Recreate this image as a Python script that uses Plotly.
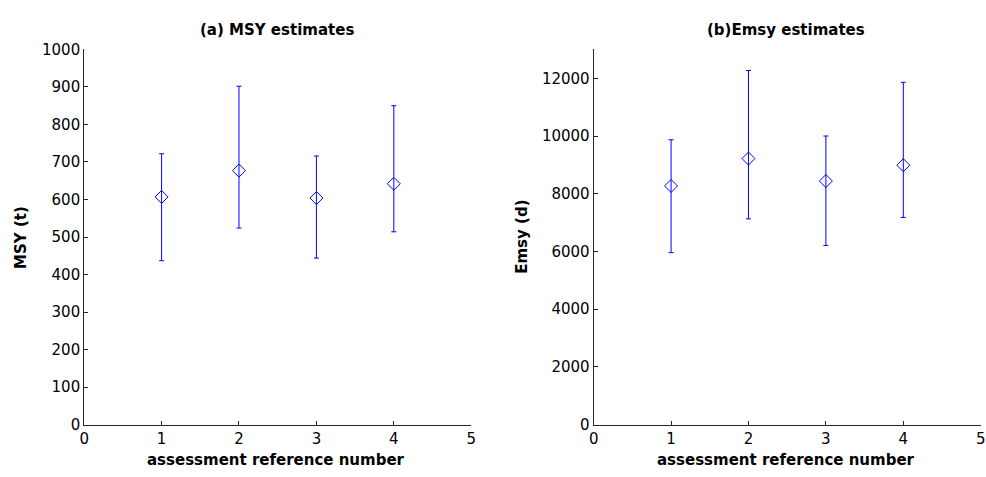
import plotly.graph_objects as go

# data
ref_num = [1, 2, 3, 4]
msy_est = [607, 677, 604, 642]
msy_upper = [722, 902, 716, 850]
msy_lower = [437, 524, 444, 514]
emsy_est = [8270, 9220, 8440, 8990]
emsy_upper = [9870, 12270, 10000, 11860]
emsy_lower = [5960, 7130, 6210, 7180]

x_ticks = [0, 1, 2, 3, 4, 5]
msy_ticks = [0, 100, 200, 300, 400, 500, 600, 700, 800, 900, 1000]
emsy_ticks = [0, 2000, 4000, 6000, 8000, 10000, 12000]

W, H = 986, 477
BLUE = "#0000FF"
FONT = "DejaVu Sans, Verdana, sans-serif"

fig = go.Figure()

def add_series(xa, ya, y, up, lo):
    fig.add_trace(go.Scatter(
        x=ref_num, y=y, mode="markers", xaxis=xa, yaxis=ya,
        marker=dict(symbol="diamond-open", size=10, color=BLUE, line=dict(width=1, color=BLUE)),
        error_y=dict(type="data", symmetric=False,
                     array=[u - v for u, v in zip(up, y)],
                     arrayminus=[v - l for v, l in zip(y, lo)],
                     color=BLUE, thickness=1, width=2.5),
        showlegend=False, hoverinfo="x+y"))

add_series("x", "y", msy_est, msy_upper, msy_lower)
add_series("x2", "y2", emsy_est, emsy_upper, emsy_lower)

def px_x(p):
    return p / W

def px_y(p):
    return 1 - p / H

axis_common = dict(showgrid=False, zeroline=False, showline=True, linecolor="#262626", linewidth=1,
                   ticks="inside", ticklen=4, tickcolor="#262626", tickwidth=1, tickformat="d",
                   tickfont=dict(family=FONT, size=15, color="#000000"), mirror=False)

fig.update_layout(
    width=W, height=H, margin=dict(l=0, r=0, t=0, b=0),
    paper_bgcolor="white", plot_bgcolor="white",
    xaxis=dict(domain=[px_x(80), px_x(471)], range=[0, 5], tickvals=x_ticks, anchor="y", **axis_common),
    yaxis=dict(domain=[px_y(432), px_y(42)], range=[0, 1000], tickvals=msy_ticks, anchor="x", **axis_common),
    xaxis2=dict(domain=[px_x(594.7), px_x(985.7)], range=[0, 5], tickvals=x_ticks, anchor="y2", **axis_common),
    yaxis2=dict(domain=[px_y(432), px_y(42)], range=[0, 13000], tickvals=emsy_ticks, anchor="x2", **axis_common),
)

def ann(text, x, y, angle=0, size=15):
    fig.add_annotation(text=f"<b>{text}</b>", x=px_x(x), y=px_y(y), xref="paper", yref="paper",
                       showarrow=False, textangle=angle, xanchor="center", yanchor="middle",
                       font=dict(family=FONT, size=size, color="#000000"))

ann("(a) MSY estimates", 275, 22, size=15)
ann("(b)Emsy estimates", 789, 22, size=15)
ann("assessment reference number", 274, 469, size=15)
ann("assessment reference number", 789, 469, size=15)
ann("MSY (t)", 16, 237, angle=-90, size=15)
ann("Emsy (d)", 522, 237, angle=-90, size=15)

fig.write_html("out.html")
